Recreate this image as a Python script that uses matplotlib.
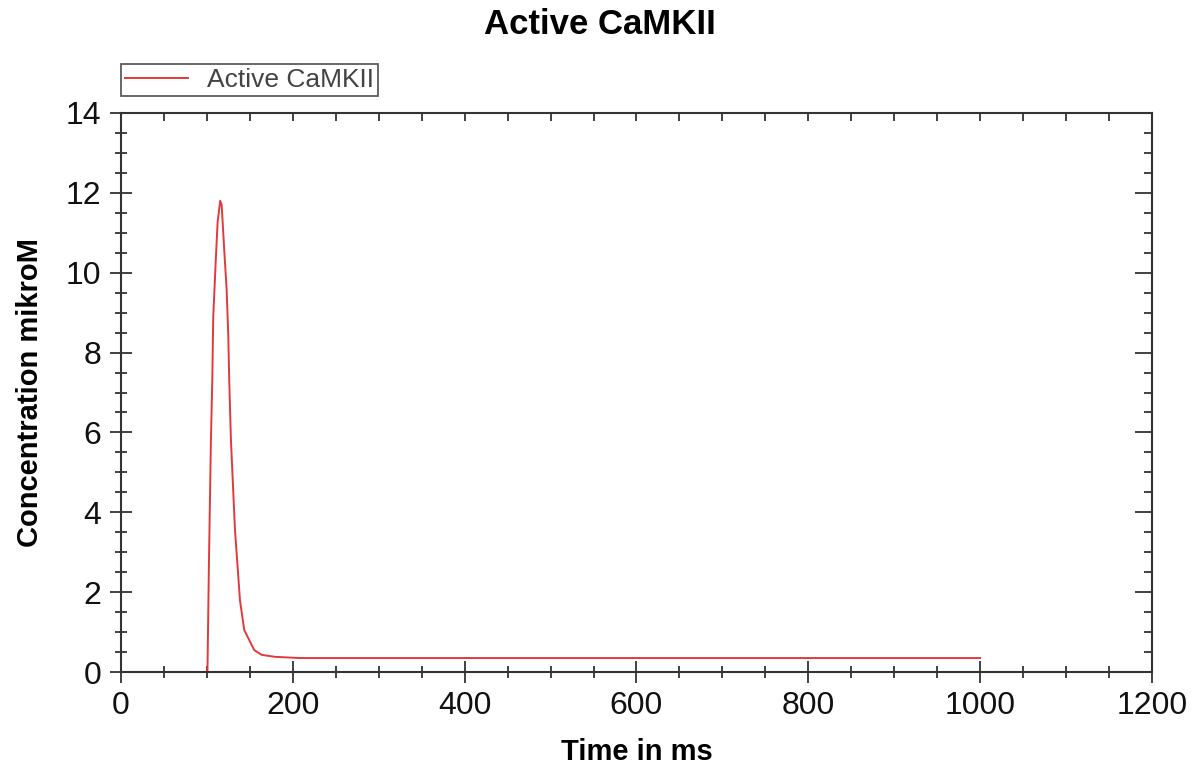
import matplotlib.pyplot as plt
from matplotlib.ticker import MultipleLocator

plt.rcParams['font.family'] = ['Liberation Sans', 'DejaVu Sans']

# time (ms) and active CaMKII concentration (mikroM)
t = [100, 100.7, 102.4, 104.7, 106.3, 107.4, 110.2, 112.5, 115.5, 117.2,
     120.2, 123.0, 124.9, 126.0, 128.0, 132.7, 138.5, 143.5, 155.1, 163.8,
     179.2, 208, 300, 500, 800, 1000]
conc = [0, 0.05, 2.73, 5.81, 7.31, 8.89, 10.24, 11.27, 11.8, 11.7,
        10.57, 9.57, 8.44, 7.31, 5.81, 3.56, 1.80, 1.05, 0.55, 0.43,
        0.38, 0.35, 0.35, 0.35, 0.35, 0.35]

fig = plt.figure(figsize=(12, 7.76), dpi=100)
ax = fig.add_axes([0.1008, 0.134, 0.8592, 0.7204])

ax.plot(t, conc, color='#e2393c', lw=1.4, label='Active CaMKII')

ax.set_xlim(0, 1200)
ax.set_ylim(0, 14)
ax.xaxis.set_major_locator(MultipleLocator(200))
ax.xaxis.set_minor_locator(MultipleLocator(50))
ax.yaxis.set_major_locator(MultipleLocator(2))
ax.yaxis.set_minor_locator(MultipleLocator(0.5))

axcol = '#333333'
for s in ax.spines.values():
    s.set_color(axcol)
    s.set_linewidth(1.5)

ax.tick_params(which='both', direction='inout', top=False, right=False,
               color=axcol, width=1.3, labelsize=23, labelcolor='#111111')
ax.tick_params(which='major', length=16, pad=6)
ax.tick_params(which='minor', length=9)

top = ax.secondary_xaxis('top')
top.xaxis.set_major_locator(MultipleLocator(50))
top.tick_params(direction='in', length=6, width=1.3, color=axcol, labeltop=False)
top.spines['top'].set_visible(False)

right = ax.secondary_yaxis('right')
right.yaxis.set_major_locator(MultipleLocator(2))
right.yaxis.set_minor_locator(MultipleLocator(0.5))
right.tick_params(which='major', direction='in', length=12, width=1.3,
                  color=axcol, labelright=False)
right.tick_params(which='minor', direction='in', length=6, width=1.3,
                  color=axcol)
right.spines['right'].set_visible(False)

ax.set_xlabel('Time in ms', fontsize=21, fontweight='bold', labelpad=12)
ax.set_ylabel('Concentration mikroM', fontsize=21, fontweight='bold', labelpad=16)
fig.suptitle('Active CaMKII', fontsize=25, fontweight='bold', y=0.99)

leg = ax.legend(loc='lower left', bbox_to_anchor=(0.0, 1.03), fontsize=19,
                frameon=True, fancybox=False, borderpad=0.15,
                handlelength=2.4, handletextpad=0.7, borderaxespad=0)
leg.get_frame().set_edgecolor('#333333')
leg.get_frame().set_linewidth(1.3)
for txt in leg.get_texts():
    txt.set_color('#444444')

fig.savefig('out.png', dpi=100)
